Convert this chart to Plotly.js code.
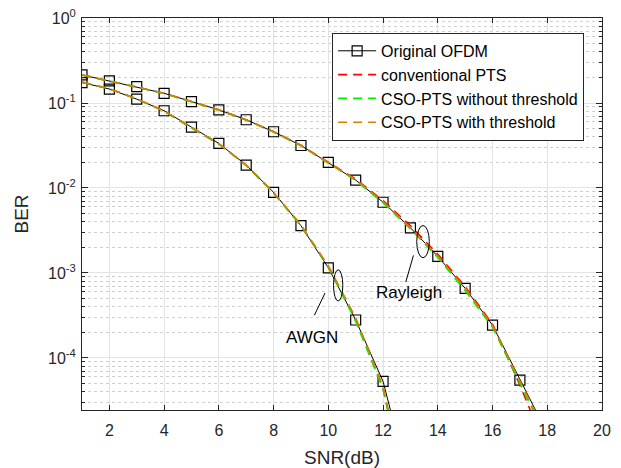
<!DOCTYPE html>
<html>
<head>
<meta charset="utf-8">
<script src="https://cdn.plot.ly/plotly-3.0.1.min.js"></script>
<style>html,body{margin:0;padding:0;background:#fff;}#chart{width:621px;height:468px;}</style>
</head>
<body>
<div id="chart"></div>
<script>
// SNR values (dB)
var snrAwgn = [1,2,3,4,5,6,7,8,9,10,11,12,13];
var snrRay  = [1,2,3,4,5,6,7,8,9,10,11,12,13,14,15,16,17,18];

// AWGN curves
var awgnOrig   = [0.174,0.146,0.111,0.081,0.052,0.0335,0.0186,0.0089,0.0036,0.00115,2.8e-4,5.3e-5,3e-6];
var awgnPts    = [0.176,0.147,0.112,0.080,0.051,0.0330,0.0185,0.0088,0.0036,0.00120,2.9e-4,4.4e-5,1.6e-6];
var awgnCso    = [0.175,0.147,0.112,0.080,0.051,0.0332,0.0184,0.0087,0.0036,0.00118,2.7e-4,4.3e-5,1.5e-6];
var awgnCsoT   = [0.176,0.147,0.112,0.081,0.052,0.0333,0.0186,0.0088,0.0037,0.00121,2.95e-4,4.6e-5,1.7e-6];

// Rayleigh curves
var rayOrig    = [0.214,0.182,0.156,0.130,0.104,0.083,0.0635,0.0459,0.0316,0.0200,0.0124,0.0068,0.0034,0.00157,6.6e-4,2.43e-4,5.5e-5,1.3e-5];
var rayPts     = [0.214,0.182,0.156,0.130,0.104,0.083,0.0635,0.0460,0.0318,0.0203,0.0127,0.0071,0.0036,0.00166,6.9e-4,2.5e-4,4.8e-5,8e-6];
var rayCso     = [0.213,0.181,0.155,0.129,0.103,0.082,0.0630,0.0455,0.0313,0.0198,0.0123,0.0067,0.0033,0.00152,6.2e-4,2.3e-4,5.2e-5,1.1e-5];
var rayCsoT    = [0.214,0.182,0.156,0.130,0.104,0.083,0.0633,0.0458,0.0316,0.0201,0.0125,0.0069,0.0034,0.00158,6.6e-4,2.4e-4,5.3e-5,1.2e-5];

// legend names
var names = ['Original OFDM','conventional PTS','CSO-PTS without threshold','CSO-PTS with threshold'];
var colors = ['#000000','#ff0000','#00ee00','#d98000'];

// axis ticks
var yTickVals = [1e-4,1e-3,1e-2,1e-1,1];
var yTickText = ['10<sup>-4</sup>','10<sup>-3</sup>','10<sup>-2</sup>','10<sup>-1</sup>','10<sup>0</sup>'];
var yMinorVals = [];
[-5,-4,-3,-2,-1].forEach(function(e){ for (var m=2;m<=9;m++) yMinorVals.push(m*Math.pow(10,e)); });

var FONT = 'Liberation Sans, Arial, sans-serif';
var DASH = '9px,6px';

var traces = [];
function orig(x, y, show) {
  return {x:x, y:y, mode:'lines+markers', name:names[0], legendgroup:'g0', showlegend:show,
    line:{color:colors[0], width:1},
    marker:{symbol:'square-open', size:10, color:colors[0], line:{width:1.2, color:colors[0]}},
    cliponaxis:true};
}
function dashed(x, y, i, show) {
  return {x:x, y:y, mode:'lines', name:names[i], legendgroup:'g'+i, showlegend:show,
    line:{color:colors[i], width:1.6, dash:DASH}};
}
traces.push(orig(snrAwgn, awgnOrig, true));
traces.push(orig(snrRay, rayOrig, false));
traces.push(dashed(snrAwgn, awgnPts, 1, true));
traces.push(dashed(snrRay, rayPts, 1, false));
traces.push(dashed(snrAwgn, awgnCso, 2, true));
traces.push(dashed(snrRay, rayCso, 2, false));
traces.push(dashed(snrAwgn, awgnCsoT, 3, true));
traces.push(dashed(snrRay, rayCsoT, 3, false));

var layout = {
  width:621, height:468,
  margin:{l:82, r:19, t:18, b:58},
  paper_bgcolor:'#ffffff', plot_bgcolor:'#ffffff',
  font:{family:FONT, size:16, color:'#262626'},
  showlegend:true,
  legend:{x:0.481, y:0.962, xanchor:'left', yanchor:'top',
    bgcolor:'#ffffff', bordercolor:'#262626', borderwidth:1, itemwidth:38,
    font:{family:FONT, size:16, color:'#000000'}, tracegroupgap:0},
  xaxis:{
    range:[1,20], tickmode:'linear', tick0:0, dtick:2,
    showgrid:true, gridcolor:'#e3e3e3', gridwidth:1,
    zeroline:false, showline:true, linecolor:'#262626', linewidth:1, mirror:'ticks',
    ticks:'inside', ticklen:5, tickcolor:'#262626', ticklabelstandoff:6,
    tickfont:{family:FONT, size:16, color:'#262626'},
    title:{text:'SNR(dB)', font:{family:FONT, size:19, color:'#262626'}, standoff:14},
    automargin:false
  },
  yaxis:{
    type:'log', range:[-4.612, 0],
    tickmode:'array', tickvals:yTickVals, ticktext:yTickText,
    showgrid:true, gridcolor:'#e3e3e3', gridwidth:1,
    zeroline:false, showline:true, linecolor:'#262626', linewidth:1, mirror:'ticks',
    ticks:'inside', ticklen:6, tickcolor:'#262626', ticklabelstandoff:2,
    tickfont:{family:FONT, size:16, color:'#262626'},
    minor:{tickmode:'array', tickvals:yMinorVals, ticks:'inside', ticklen:3, tickcolor:'#262626',
      showgrid:true, gridcolor:'#cfcfcf', griddash:'dot', gridwidth:1},
    title:{text:'BER', font:{family:FONT, size:19, color:'#262626'}, standoff:14},
    automargin:false
  },
  shapes:[
    {type:'circle', xref:'x', yref:'y', x0:10.19, x1:10.53, y0:4.68e-4, y1:1.09e-3, line:{color:'#000', width:1}},
    {type:'line', xref:'x', yref:'y', x0:9.88, y0:5.81e-4, x1:9.49, y1:3.18e-4, line:{color:'#000', width:1}},
    {type:'circle', xref:'x', yref:'y', x0:13.23, x1:13.69, y0:1.51e-3, y1:3.62e-3, line:{color:'#000', width:1}},
    {type:'line', xref:'x', yref:'y', x0:13.11, y0:1.61e-3, x1:12.83, y1:7.82e-4, line:{color:'#000', width:1}}
  ],
  annotations:[
    {text:'AWGN', xref:'x', yref:'y', x:9.41, y:-3.756, showarrow:false, font:{family:FONT, size:17, color:'#000'}},
    {text:'Rayleigh', xref:'x', yref:'y', x:12.95, y:-3.228, showarrow:false, font:{family:FONT, size:17, color:'#000'}}
  ]
};

Plotly.newPlot('chart', traces, layout, {displayModeBar:false, staticPlot:true});
</script>
</body>
</html>
